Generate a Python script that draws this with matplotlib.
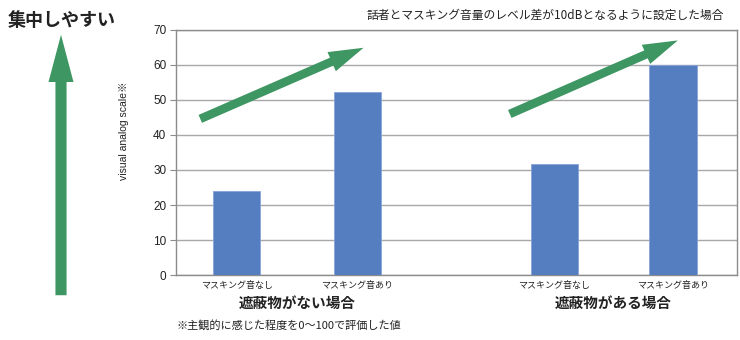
import matplotlib.pyplot as plt

plt.rcParams['font.family'] = ['Noto Sans CJK JP', 'DejaVu Sans']

# data
bar_labels = ["マスキング音なし", "マスキング音あり", "マスキング音なし", "マスキング音あり"]
groups = ["遮蔽物がない場合", "遮蔽物がある場合"]
values = [24, 52.3, 31.6, 60]
yticks = [0, 10, 20, 30, 40, 50, 60, 70]

pos = [0, 1, 2.63, 3.61]
bar_col = "#547ebf"
green = "#3e9662"
txt = "#222222"

fig = plt.figure(figsize=(7.4, 3.4), dpi=100)
ax = fig.add_axes([0.238, 0.191, 0.758, 0.721])

ax.bar(pos, values, width=0.39, color=bar_col, edgecolor="#86a4d8", linewidth=0.6, zorder=3)
ax.set_xlim(-0.5, 4.14)
ax.set_ylim(0, 70)
ax.set_yticks(yticks)
ax.yaxis.grid(True, color="#a8a8a8", linewidth=1.0, zorder=0)
for s in ax.spines.values():
    s.set_color("#8c8c8c")
    s.set_linewidth(1.0)
ax.tick_params(axis="y", length=4, color="#8c8c8c", labelsize=8.5, labelcolor=txt, pad=3)
for t in ax.get_yticklabels():
    t.set_family(["Liberation Sans", "DejaVu Sans"])
ax.set_xticks(pos)
ax.set_xticklabels(bar_labels, fontsize=6.5, color=txt)
ax.tick_params(axis="x", length=0, pad=4)

# group labels under each pair of bars
for i, g in enumerate(groups):
    cx = (pos[2 * i] + pos[2 * i + 1]) / 2
    ax.text(cx, -0.08, g, transform=ax.get_xaxis_transform(), ha="center", va="top",
            fontsize=10.5, fontweight="bold", color=txt)

# diagonal arrows above each pair (tail -> tip)
arrows = [((-0.3, 44.6), (1.05, 64.9)), ((2.26, 46.0), (3.65, 67.0))]
for tail, tip in arrows:
    ax.annotate("", xy=tip, xytext=tail,
                arrowprops=dict(arrowstyle="simple,head_width=1.5,head_length=2.5,tail_width=0.62",
                                mutation_scale=10, color=green, shrinkA=0, shrinkB=0, lw=0),
                zorder=4)

# big vertical arrow on the left
fig.patches.append(plt.matplotlib.patches.FancyArrowPatch(
    (61, 42), (61, 308), transform=None,
    arrowstyle="simple,head_width=1.8,head_length=3.4,tail_width=0.8",
    mutation_scale=10, color=green, lw=0))

fig.text(8 / 740, 1 - 20 / 340, "集中しやすい", fontsize=13, fontweight="bold",
         color=txt, va="center", ha="left")
fig.text(724 / 740, 1 - 15 / 340, "話者とマスキング音量のレベル差が10dBとなるように設定した場合",
         fontsize=8.5, color=txt, va="center", ha="right")
fig.text(124 / 740, 1 - 131 / 340, "visual analog scale※", rotation=90, fontsize=7.5,
         color=txt, va="center", ha="center", family=["Liberation Sans", "Noto Sans CJK JP"])
fig.text(177 / 740, 1 - 325 / 340, "※主観的に感じた程度を0〜100で評価した値",
         fontsize=8, color=txt, va="center", ha="left")

fig.savefig("out.png", dpi=100)
